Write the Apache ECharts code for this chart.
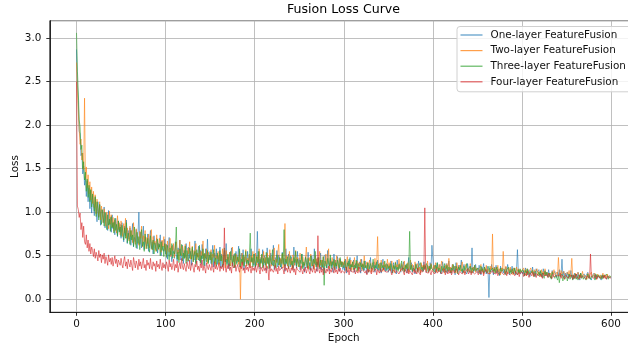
<!DOCTYPE html>
<html>
<head>
<meta charset="utf-8">
<script src="https://cdn.jsdelivr.net/npm/echarts@6/dist/echarts.min.js"></script>
<style>
html,body{margin:0;padding:0;background:#fff;overflow:hidden;width:628px;height:347px;}
#chart{width:640px;height:347px;}
</style>
</head>
<body>
<div id="chart"></div>
<script>
// Loss values in hundredths, one per epoch (0 .. 600)
const seriesNames = ['One-layer FeatureFusion','Two-layer FeatureFusion','Three-layer FeatureFusion','Four-layer FeatureFusion'];
const oneLayerX100 = [
287,246,228,193,190,165,168,144,153,131, 141,118,136,112,128,104,125,99,119,108, 96,117,101,89,112,94,108,85,103,97, 88,106,82,99,91,79,102,86,94,77, 97,81,89,74,93,84,72,90,78,86,
70,88,75,66,84,73,91,64,79,69, 82,62,75,87,60,71,66,80,58,74, 100,63,77,59,69,84,57,72,64,61, 75,55,68,79,58,66,52,73,62,57, 70,53,64,60,74,50,67,58,55,69,
52,63,46,58,71,49,55,43,62,57, 47,66,51,44,59,53,68,45,50,62, 41,56,48,64,52,43,60,47,55,39, 58,50,45,67,42,53,49,61,44,56, 40,63,47,52,38,58,46,69,43,51,
55,41,49,62,37,53,46,58,40,50, 44,60,36,52,47,39,56,43,64,41, 49,35,54,45,59,38,47,52,36,55, 42,48,61,37,46,53,40,57,34,49, 44,38,55,41,50,36,58,43,47,39,
52,37,46,78,40,55,35,48,42,57, 38,50,44,33,59,41,47,36,53,45, 39,62,34,48,43,56,37,51,40,46, 35,54,42,47,32,58,41,38,52,44, 37,49,43,34,60,39,46,36,55,41,
47,34,43,52,37,41,31,49,45,36, 54,38,42,33,50,44,35,58,39,46, 32,48,41,37,53,34,45,39,30,51, 43,36,56,40,33,47,38,44,31,52, 37,45,35,49,41,32,46,39,43,34,
42,33,46,30,39,44,35,48,32,40, 37,45,31,41,36,50,34,38,43,30, 46,35,40,33,44,37,29,42,38,35, 48,32,39,36,43,31,41,35,45,33, 38,42,30,37,46,34,39,32,41,36,
31,40,35,44,30,37,42,33,38,29, 45,34,36,41,31,39,35,43,32,37, 40,30,38,48,33,36,42,31,39,35, 29,41,37,33,44,35,30,40,36,32, 43,34,38,31,39,36,33,42,35,62,
60,33,39,30,37,42,32,36,40,29, 35,43,31,38,34,41,30,37,44,33, 36,30,40,34,38,28,42,35,31,39, 33,37,45,30,36,40,32,34,29,41, 35,31,38,34,59,30,37,33,40,32,
36,30,39,33,28,37,34,41,31,35, 29,38,33,2,36,31,40,34,28,37, 32,39,30,35,33,27,38,32,36,30, 34,29,37,31,40,33,28,35,31,38, 30,36,33,28,35,57,31,34,29,33,
35,29,33,27,36,31,28,34,30,26, 33,30,37,28,32,26,35,31,29,34, 27,32,30,25,35,29,33,28,31,26, 34,28,30,24,33,29,27,32,30,25, 31,28,34,26,29,46,27,32,25,30,
27,31,24,29,26,33,25,28,23,30, 26,29,24,31,27,22,30,26,28,24, 29,25,27,23,31,26,24,28,22,27, 25,30,26,23,28,24,27,29,25,22, 28,24,27,25,29,23,26,24,28,25,
25];
const twoLayerX100 = [
272,238,214,195,178,184,160,168,149,231, 139,152,128,143,121,135,114,129,110,124, 105,120,98,115,103,95,112,91,107,99, 88,104,95,84,100,90,81,101,86,97, 83,94,78,91,85,76,96,80,88,74,
90,79,72,87,76,93,70,82,75,67, 84,72,79,65,88,70,63,81,74,68, 62,78,70,84,60,73,66,79,58,71, 64,75,59,69,80,57,72,63,67,55, 74,61,57,70,64,54,68,60,72,56,
63,51,67,58,54,70,49,61,56,64, 48,59,66,52,57,45,68,53,50,61, 55,47,63,50,44,59,52,66,46,54, 61,43,56,51,64,45,53,48,60,42, 55,50,67,44,52,47,58,41,54,49,
45,57,42,52,48,62,40,50,46,55, 39,53,47,44,58,41,51,36,56,45, 49,42,54,38,47,60,43,50,37,52, 44,48,40,55,0,46,53,39,49,43, 57,38,47,44,52,36,50,42,55,41,
46,53,39,49,43,58,37,47,51,40, 55,42,48,36,53,45,40,57,43,38, 50,44,59,37,46,42,54,63,39,47, 41,52,36,48,87,43,50,38,45,55, 40,47,35,51,44,39,56,42,48,37,
45,53,40,36,49,43,38,47,60,41, 35,48,44,52,38,42,46,34,50,40, 47,37,43,55,39,45,36,49,41,38, 52,40,46,58,35,44,39,48,42,36, 45,38,50,41,35,47,40,44,37,43,
39,46,36,42,49,34,41,38,45,33, 43,37,48,35,40,44,32,42,38,46, 34,41,37,50,36,39,43,33,40,45, 37,31,42,38,35,47,39,44,72,36, 41,34,45,38,32,43,37,40,35,46,
36,42,33,39,44,35,38,31,43,37, 40,34,46,36,32,41,38,35,44,33, 39,36,42,31,37,45,34,40,36,32, 43,35,38,41,33,37,30,42,36,39, 34,40,37,32,44,35,38,33,41,36,
33,39,35,42,31,37,34,40,32,38, 44,33,36,30,39,35,41,33,47,34, 37,31,40,35,33,38,30,42,34,36, 39,32,37,43,33,35,30,40,36,34, 38,32,41,35,30,37,33,39,31,36,
34,38,31,36,40,32,35,29,37,33, 39,31,35,33,29,38,34,75,32,36, 30,37,33,39,31,35,28,36,32,55, 35,30,38,33,29,36,32,37,31,34, 28,36,33,30,37,32,35,29,34,31,
33,29,36,31,34,27,35,30,32,28, 36,30,33,27,34,31,29,35,28,32, 30,26,34,29,32,28,35,27,31,29, 33,27,30,25,32,29,34,28,26,31, 28,48,30,26,33,29,27,32,28,30,
26,31,28,33,25,30,47,27,29,24, 30,27,25,31,28,24,29,26,32,27, 25,29,27,23,30,26,28,24,31,26, 28,24,30,26,23,29,27,25,28,24, 27,30,25,28,24,26,29,25,27,26,
26];
const threeLayerX100 = [
306,262,238,206,198,172,177,150,158,137, 146,124,138,117,131,112,126,106,121,110, 101,118,95,112,104,91,109,97,86,103, 94,84,100,89,80,97,85,92,78,95, 82,88,76,93,79,86,73,90,77,83,
72,85,77,68,82,70,88,65,76,71, 63,79,68,74,61,83,66,59,77,64, 72,57,69,80,61,66,55,75,63,58, 70,60,54,73,62,57,68,52,65,59, 55,69,58,63,50,66,56,61,49,64,
57,48,62,53,45,59,51,64,47,55, 52,60,83,46,54,42,58,50,63,44, 53,47,61,41,56,49,44,59,52,46, 60,43,51,55,40,57,48,45,62,42, 50,46,58,39,53,47,43,56,41,51,
45,54,40,49,57,42,47,38,53,46, 41,56,44,50,37,48,59,43,46,39, 52,44,38,55,47,41,50,36,53,45, 40,49,43,58,37,46,42,51,38,47, 55,41,45,39,50,76,43,48,37,52,
44,38,49,42,55,37,46,41,52,36, 47,43,39,54,41,48,35,50,44,40, 57,38,45,42,36,51,44,39,48,37, 43,53,40,80,38,46,41,49,35,45, 50,39,44,36,48,42,55,38,46,40,
37,45,41,52,35,43,39,48,42,36, 47,40,34,50,44,38,46,41,55,37, 43,39,48,35,45,41,37,49,16,44, 40,36,47,42,38,51,35,43,39,46, 34,42,38,45,40,36,48,37,43,39,
36,44,39,33,42,38,46,35,40,37, 43,34,39,36,45,32,41,38,35,42, 37,40,33,44,36,39,35,42,31,38, 41,35,38,46,33,39,36,43,34,40, 37,32,42,36,39,34,44,37,33,40,
35,38,33,41,36,30,39,35,42,34, 37,32,40,35,38,44,33,36,31,39, 35,41,33,37,78,34,39,32,36,38, 33,40,35,31,38,36,42,34,37,32, 39,35,33,41,36,31,38,34,40,35,
33,37,31,39,35,42,32,36,34,30, 38,33,36,41,31,35,39,32,37,34, 30,36,33,40,34,31,38,35,29,37, 34,39,32,35,30,38,33,36,41,31, 35,33,38,30,36,34,32,39,33,35,
31,36,33,29,38,32,35,30,37,33, 35,30,34,38,31,33,29,36,32,35, 30,34,37,31,33,28,36,32,34,30, 35,31,28,34,32,37,30,33,29,35, 32,29,36,31,33,28,34,30,35,31,
29,34,31,27,33,30,35,28,32,29, 31,27,33,29,26,32,30,34,27,31, 28,33,26,30,29,24,32,27,31,28, 25,30,28,23,31,27,29,24,28,26, 22,28,19,26,24,29,21,27,23,25,
27,21,26,29,23,25,28,22,27,24, 29,23,26,22,28,25,30,24,27,23, 26,28,22,25,29,24,27,23,26,28, 24,27,22,29,25,23,28,26,24,27, 23,28,25,27,24,29,26,23,27,25,
26];
const fourLayerX100 = [
250,107,103,94,99,80,88,71,84,66, 63,74,59,68,55,64,52,60,56,49, 58,47,54,50,44,56,48,52,42,51, 46,53,41,49,45,39,51,43,47,40, 48,38,44,50,41,46,37,45,42,39,
47,40,36,44,49,38,43,35,46,41, 37,45,39,33,48,42,36,44,40,34, 46,38,43,35,41,47,36,40,33,45, 39,42,35,47,37,34,43,38,41,32, 44,37,40,35,46,38,33,42,36,40,
35,43,38,32,45,37,41,34,39,46, 33,40,36,44,31,38,42,35,47,37, 34,41,36,32,43,38,35,45,33,39, 42,36,31,40,37,44,34,38,32,41, 36,45,33,39,35,30,42,37,34,40,
38,33,41,36,31,43,35,39,34,37, 42,32,38,35,40,33,82,36,31,39, 35,41,33,37,30,42,36,34,39,32, 37,40,34,31,38,35,43,33,36,30, 39,34,37,32,41,35,30,38,33,36,
33,38,31,36,41,34,29,37,35,32, 39,33,36,30,38,34,22,40,32,35, 37,31,34,39,32,36,29,38,33,35, 31,37,34,29,40,33,36,31,38,34, 30,36,33,39,31,35,28,37,34,32,
36,31,38,33,29,35,32,37,30,34, 38,32,29,36,34,31,39,33,30,35, 32,73,34,30,37,31,35,28,36,33, 30,35,32,38,29,34,31,36,33,30, 37,31,34,29,35,32,36,30,33,31,
35,30,33,37,31,34,28,36,32,30, 34,31,36,29,33,35,30,37,31,33, 29,34,32,36,30,33,28,35,31,34, 32,29,36,31,33,30,35,28,34,32, 30,35,31,33,29,36,32,30,34,31,
33,29,35,31,28,34,32,36,30,33, 31,35,29,32,34,30,36,31,28,34, 32,30,35,29,33,31,34,28,32,35, 30,33,29,36,31,32,28,34,31,30, 34,105,31,29,33,30,35,31,28,33,
31,34,29,32,35,30,28,33,31,34, 29,32,30,35,28,33,31,29,34,30, 33,28,31,34,30,32,29,35,31,28, 32,30,34,29,31,33,28,32,30,35, 29,31,33,28,32,30,34,29,31,30,
32,28,31,34,29,30,33,27,31,29, 34,30,28,32,29,31,27,33,30,28, 31,29,33,27,30,32,28,31,29,33, 28,30,32,27,31,29,33,28,30,26, 31,29,27,32,30,28,31,26,30,29,
28,31,26,30,29,27,32,28,25,30, 29,27,31,26,28,30,25,29,27,31, 26,29,28,24,30,27,29,26,28,25, 30,26,28,27,24,29,26,28,25,27, 29,25,27,30,24,28,26,27,23,28,
26,28,24,27,29,25,27,23,28,26, 24,29,26,27,23,28,25,27,24,26, 28,25,23,27,26,29,24,52,26,25, 27,24,28,26,23,27,25,28,24,26, 25,27,24,28,26,23,27,25,26,24,
25];
const seriesColors = ['rgba(31,119,180,0.75)','rgba(255,127,14,0.75)','rgba(44,160,44,0.75)','rgba(214,39,40,0.75)'];
const allValues = [oneLayerX100, twoLayerX100, threeLayerX100, fourLayerX100];

const FONT = 'DejaVu Sans';
const chart = echarts.init(document.getElementById('chart'), null, {renderer:'canvas'});
const series = allValues.map((vals, k) => ({
  name: seriesNames[k],
  type: 'line',
  symbol: 'none',
  showSymbol: false,
  data: vals.map((v, epoch) => [epoch, v / 100]),
  lineStyle: {width: 0.8, color: seriesColors[k]},
  itemStyle: {color: seriesColors[k]},
  emphasis: {disabled: true},
  z: 2 + k
}));

chart.setOption({
  animation: false,
  backgroundColor: '#fff',
  title: {
    text: 'Fusion Loss Curve',
    left: 287, top: 3.5, padding: 0,
    textStyle: {fontFamily: FONT, fontSize: 12.6, fontWeight: 'normal', color: '#000'}
  },
  legend: {
    orient: 'vertical',
    left: 457, top: 26.5,
    padding: [2.5, 7, 4, 3.5],
    itemGap: 3.6,
    itemWidth: 22, itemHeight: 1.2,
    icon: 'rect',
    backgroundColor: 'rgba(255,255,255,0.8)',
    borderColor: '#d0d0d0', borderWidth: 1, borderRadius: 3,
    textStyle: {fontFamily: FONT, fontSize: 10.4, color: '#111', lineHeight: 12, padding: [0,0,0,3]},
    data: seriesNames
  },
  grid: {
    left: 49.8, right: 2.3, top: 20.7, bottom: 34.7,
    containLabel: false, outerBoundsMode: 'none',
    show: true, borderColor: '#000', borderWidth: 0.8, backgroundColor: 'transparent'
  },
  xAxis: {
    type: 'value', min: -30, max: 630, splitNumber: 6,
    name: 'Epoch', nameLocation: 'middle', nameGap: 21, nameMoveOverlap: false,
    nameTextStyle: {fontFamily: FONT, fontSize: 10.4, color: '#111'},
    axisLine: {show: true, onZero: false, lineStyle: {color: '#000', width: 0.8}},
    axisTick: {show: true, inside: false, length: 3.5, lineStyle: {color: '#000', width: 0.8}},
    axisLabel: {fontFamily: FONT, fontSize: 10.4, color: '#111', margin: 6.5, showMinLabel: false, showMaxLabel: false,
      formatter: v => String(v)},
    splitLine: {show: true, lineStyle: {color: '#b0b0b0', width: 0.8}}
  },
  yAxis: {
    type: 'value', min: -0.15, max: 3.2, splitNumber: 7,
    name: 'Loss', nameLocation: 'middle', nameGap: 30, nameRotate: 90, nameMoveOverlap: false,
    nameTextStyle: {fontFamily: FONT, fontSize: 10.4, color: '#111'},
    axisLine: {show: true, onZero: false, lineStyle: {color: '#000', width: 0.8}},
    axisTick: {show: true, inside: false, length: 3.5, lineStyle: {color: '#000', width: 0.8}},
    axisLabel: {fontFamily: FONT, fontSize: 10.4, color: '#111', margin: 8.5, showMinLabel: false, showMaxLabel: false,
      formatter: v => v.toFixed(1)},
    splitLine: {show: true, lineStyle: {color: '#b0b0b0', width: 0.8}}
  },
  series: series
});
</script>
</body>
</html>
